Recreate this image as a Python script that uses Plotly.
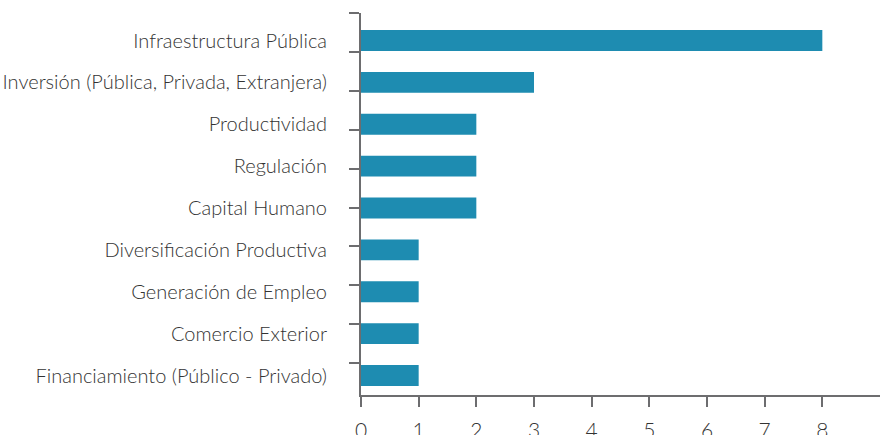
import plotly.graph_objects as go

categories = [
    "Infraestructura Pública",
    "Inversión (Pública, Privada, Extranjera)",
    "Productividad",
    "Regulación",
    "Capital Humano",
    "Diversificación Productiva",
    "Generación de Empleo",
    "Comercio Exterior",
    "Financiamiento (Público - Privado)",
]
values = [8, 3, 2, 2, 2, 1, 1, 1, 1]
x_ticks = [0, 1, 2, 3, 4, 5, 6, 7, 8]
y_tick_marks = [0, 1, 2, 3, 4, 5, 6, 7, 8, 9]

FONT = "Lato, Roboto, sans-serif"
AXIS = "#6d6d6f"
TEXT = "#333333"
tickfont = dict(family=FONT, color=TEXT, size=20, weight=300)

fig = go.Figure()
fig.add_trace(go.Bar(
    y=categories, x=values, orientation="h", width=0.5,
    marker=dict(color="#1E8CB1", line=dict(width=0)),
    yaxis="y", hoverinfo="x+y",
))
fig.add_trace(go.Scatter(x=[None], y=[None], yaxis="y2", showlegend=False, hoverinfo="skip"))

fig.update_layout(
    width=880, height=435,
    margin=dict(l=361, r=0, t=13, b=40),
    paper_bgcolor="white", plot_bgcolor="white",
    showlegend=False,
    font=dict(family=FONT, color=TEXT, size=20),
    xaxis=dict(
        range=[0, 9.0], tickvals=x_ticks, ticks="outside", ticklen=10, tickwidth=2,
        tickcolor=AXIS, showline=True, linecolor=AXIS, linewidth=2,
        showgrid=False, zeroline=False, automargin=False, ticklabelstandoff=6,
        tickfont=dict(family=FONT, color=TEXT, size=21, weight=300),
    ),
    yaxis=dict(
        type="category", range=[8.465, -0.657], ticks="", showline=False,
        showgrid=False, zeroline=False, automargin=False, ticklabelstandoff=33,
        tickfont=tickfont,
    ),
    yaxis2=dict(
        overlaying="y", side="left", anchor="x", range=[9.82, 0],
        tickvals=y_tick_marks, ticks="outside", ticklen=10, tickwidth=2,
        tickcolor=AXIS, showticklabels=False, showline=True, linecolor=AXIS,
        linewidth=2, showgrid=False, zeroline=False, automargin=False,
    ),
)

fig.write_html(
    "out.html",
    config={"displayModeBar": False},
    post_script="document.body.style.margin='0';document.body.style.overflow='hidden';",
)
